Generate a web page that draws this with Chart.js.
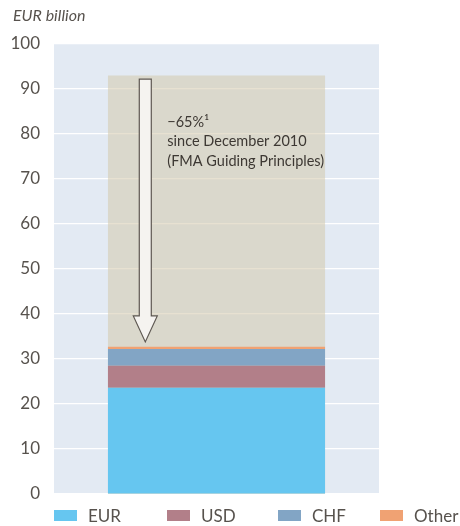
<!DOCTYPE html>
<html>
<head>
<meta charset="utf-8">
<script src="https://cdn.jsdelivr.net/npm/chart.js@4/dist/chart.umd.min.js"></script>
<style>
  html, body { margin: 0; padding: 0; background: #fff; }
  #wrap { position: relative; width: 460px; height: 526px; }
  #title { position: absolute; left: 13px; top: 5px; font: italic 16px Lato, sans-serif; color: #57524d; }
  #legend { position: absolute; left: 0; top: 505px; width: 460px; height: 21px; font: 17px Lato, sans-serif; color: #57524d; }
  .item { position: absolute; top: 0; height: 21px; display: flex; align-items: center; white-space: nowrap; }
  .box { width: 23px; height: 11px; margin-right: 11px; }
</style>
</head>
<body>
<div id="wrap">
  <canvas id="c" width="460" height="526"></canvas>
  <div id="title">EUR billion</div>
  <div id="legend"></div>
</div>
<script>
// Foreign currency loans outstanding, EUR billion
const categories = ['2015'];
const currencies = ['EUR', 'USD', 'CHF', 'Other'];
const eurValues = [23.6];
const usdValues = [4.9];
const chfValues = [3.7];
const otherValues = [0.5];
// Volume in December 2010, shown behind the current stack
const dec2010Values = [93];
const arrowFrom = 92.2;
const arrowTo = 33.8;
const noteLines = ['\u221265%\u00B9', 'since December 2010', '(FMA Guiding Principles)'];
const yTicks = [0, 10, 20, 30, 40, 50, 60, 70, 80, 90, 100];

const colors = ['#66c6f0', '#b27f89', '#82a5c5', '#f0a273'];
const seriesValues = [eurValues, usdValues, chfValues, otherValues];

const datasets = currencies.map((name, i) => ({
  label: name,
  data: seriesValues[i],
  backgroundColor: colors[i],
  borderWidth: 0,
  yAxisID: 'y',
  order: 0,
  barPercentage: 0.668,
  categoryPercentage: 1
}));
datasets.push({
  label: 'December 2010',
  data: dec2010Values,
  backgroundColor: 'rgba(212,201,172,0.55)',
  borderWidth: 0,
  yAxisID: 'y2',
  order: 1,
  barPercentage: 0.668,
  categoryPercentage: 1
});

const plotBackground = {
  id: 'plotBackground',
  beforeDraw(chart) {
    const { ctx, chartArea: a } = chart;
    ctx.save();
    ctx.fillStyle = '#e3eaf3';
    ctx.fillRect(a.left, a.top, a.right - a.left, a.bottom - a.top);
    ctx.restore();
  }
};

const reductionArrow = {
  id: 'reductionArrow',
  afterDatasetsDraw(chart) {
    const { ctx } = chart;
    const y = chart.scales.y;
    const bar = chart.getDatasetMeta(datasets.length - 1).data[0];
    const cx = bar.x - bar.width / 2 + bar.width * 0.172;
    const top = y.getPixelForValue(arrowFrom);
    const tip = y.getPixelForValue(arrowTo);
    const shaft = 6, head = 12, headLen = 26;
    ctx.save();
    ctx.beginPath();
    ctx.moveTo(cx - shaft, top);
    ctx.lineTo(cx + shaft, top);
    ctx.lineTo(cx + shaft, tip - headLen);
    ctx.lineTo(cx + head, tip - headLen);
    ctx.lineTo(cx, tip);
    ctx.lineTo(cx - head, tip - headLen);
    ctx.lineTo(cx - shaft, tip - headLen);
    ctx.closePath();
    ctx.fillStyle = '#f5f3f0';
    ctx.fill();
    ctx.lineWidth = 1.2;
    ctx.strokeStyle = '#5e5852';
    ctx.stroke();

    ctx.fillStyle = '#3d3833';
    ctx.font = '14.5px Lato, sans-serif';
    ctx.textBaseline = 'middle';
    ctx.textAlign = 'left';
    noteLines.forEach((t, i) => {
      ctx.fillText(t, cx + 22, top + 43 + i * 19.5);
    });
    ctx.restore();
  }
};

new Chart(document.getElementById('c'), {
  type: 'bar',
  data: { labels: categories, datasets },
  options: {
    responsive: false,
    animation: false,
    layout: { padding: { left: 0, right: 81, top: 44, bottom: 32 } },
    plugins: { legend: { display: false }, tooltip: { enabled: false } },
    scales: {
      x: { stacked: true, display: false },
      y: {
        stacked: true,
        min: 0, max: 100,
        afterFit(s) { s.width = 54; },
        afterBuildTicks(s) { s.ticks = yTicks.map(v => ({ value: v })); },
        border: { display: false },
        grid: { color: '#ffffff', lineWidth: 1.2, drawTicks: false },
        ticks: { padding: 14, color: '#57524d', font: { family: 'Lato', size: 17 } }
      },
      y2: { display: false, min: 0, max: 100, stacked: false }
    }
  },
  plugins: [plotBackground, reductionArrow]
});

// Legend below the plot
const legendLeft = [54, 167, 278, 380];
const legend = document.getElementById('legend');
currencies.forEach((name, i) => {
  const item = document.createElement('div');
  item.className = 'item';
  item.style.left = legendLeft[i] + 'px';
  const box = document.createElement('span');
  box.className = 'box';
  box.style.background = colors[i];
  const label = document.createElement('span');
  label.textContent = name;
  item.appendChild(box);
  item.appendChild(label);
  legend.appendChild(item);
});
</script>
</body>
</html>
